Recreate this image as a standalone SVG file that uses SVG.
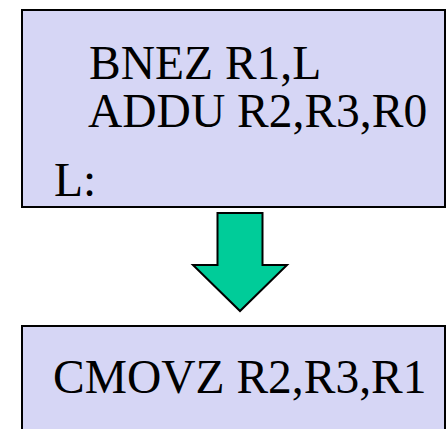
<svg xmlns="http://www.w3.org/2000/svg" width="448" height="429" viewBox="0 0 448 429">
<style>
.box{fill:#D6D6F5;stroke:#000;stroke-width:2}
.t{font-family:'Liberation Serif','Times New Roman',Times,'DejaVu Serif',serif;font-size:47.5px;fill:#000}
.arrow{fill:#00CC99;stroke:#000;stroke-width:2;stroke-linejoin:miter}
</style>
<rect width="448" height="429" fill="#fff"/>
<g id="node-top">
<rect class="box" x="22" y="10" width="423" height="197"/>
<text class="t" font-family="Liberation Serif, serif" x="89" y="79">BNEZ R1,L</text>
<text class="t" font-family="Liberation Serif, serif" x="88" y="127">ADDU R2,R3,R0</text>
<text class="t" font-family="Liberation Serif, serif" x="54" y="196">L:</text>
</g>
<g id="connectors">
<polygon class="arrow" points="217.5,213 262.5,213 262.5,265 287,265 240,311 193,265 217.5,265"/>
</g>
<g id="node-bottom">
<rect class="box" x="22" y="326" width="423" height="110"/>
<text class="t" font-family="Liberation Serif, serif" x="53" y="393">CMOVZ R2,R3,R1</text>
</g>
</svg>
